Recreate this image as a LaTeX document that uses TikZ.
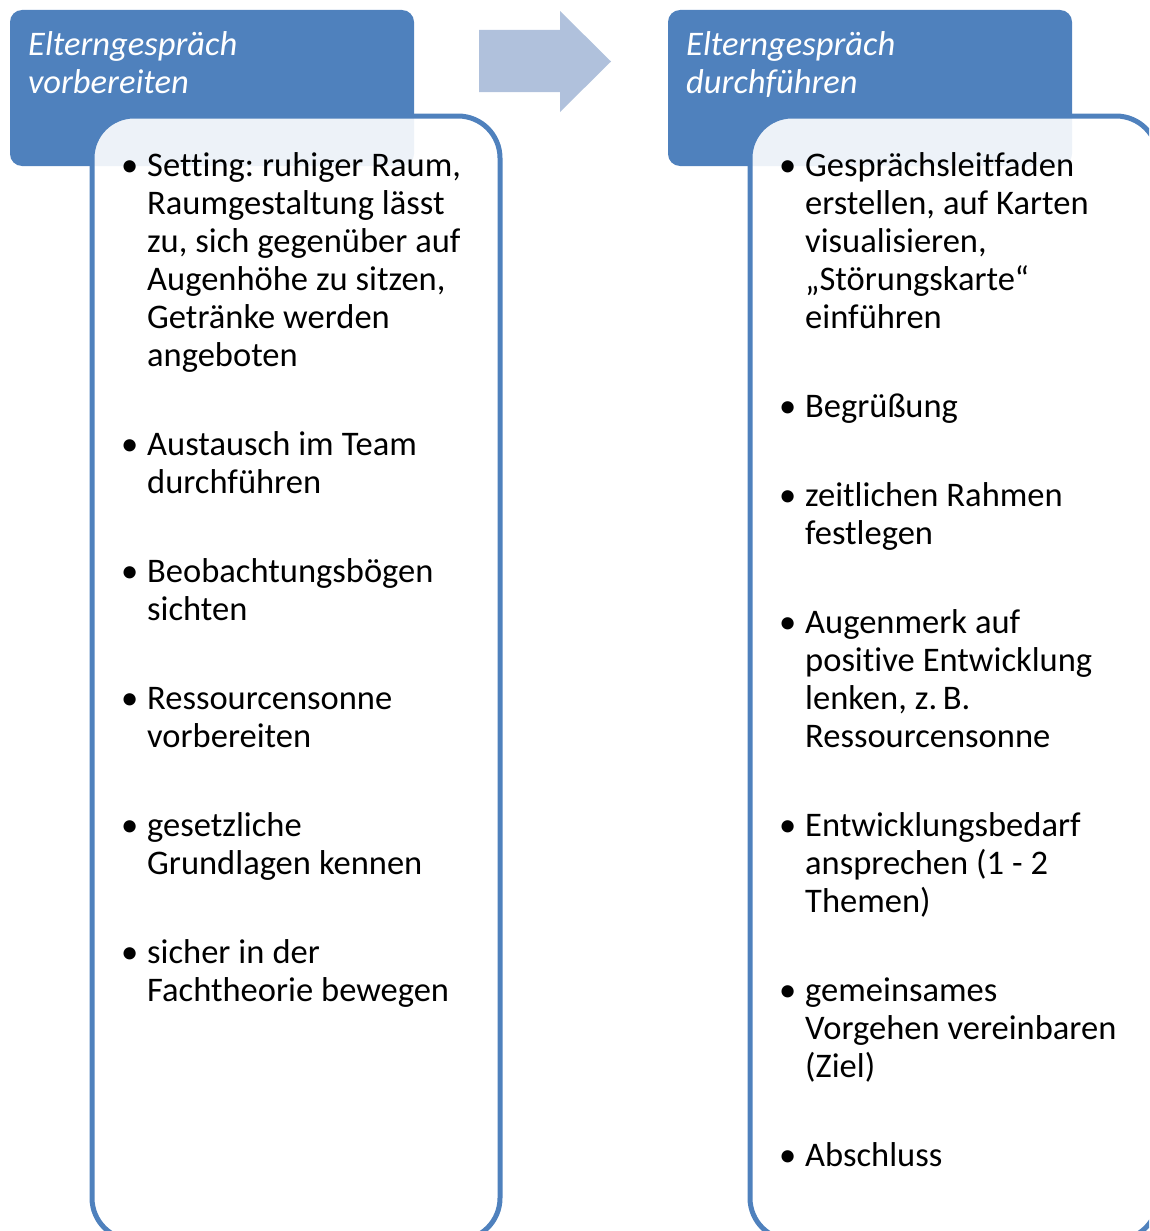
\documentclass[tikz,border=0pt]{standalone}
\usepackage{fontspec}
\setmainfont{Carlito}[Ligatures=NoCommon]
\definecolor{accent}{RGB}{79,129,189}
\definecolor{arrowfill}{RGB}{176,193,220}
% list layout: fixed 38pt lines, 51pt extra between entries, fixed word spaces
\newcommand{\listsetup}{\fontsize{34.5}{38}\selectfont\lineskiplimit=-1000pt\relax
  \parskip=51pt\relax\parindent=0pt\relax\spaceskip=8pt\relax\xspaceskip=8pt\relax}
% bullet entries of a list: bullet hangs left of the text column
\newcommand{\firstentry}{\noindent\rule{0pt}{27pt}\llap{•\hspace{9pt}}}
\newcommand{\bulletentry}{\par\noindent\rule{0pt}{27pt}\llap{•\hspace{9pt}}}
\tikzset{
  header/.style={fill=accent, rounded corners=12pt},
  card/.style={draw=accent, line width=5pt, fill=white, fill opacity=0.9, rounded corners=42pt},
  headtext/.style={anchor=north west, inner sep=0pt, text width=380pt, align=left,
    text=white, font=\fontsize{34.5}{38}\selectfont\itshape},
  listtext/.style={anchor=north west, inner sep=0pt, text width=420pt, align=left},
}
\begin{document}
\begin{tikzpicture}[x=1pt, y={(0pt,-1pt)}]
\useasboundingbox (0,0) rectangle (1149,1231);
\clip (0,0) rectangle (1149,1231);

% step headers
\path[header] (10,10) rectangle (414,166);
\path[header] (668,10) rectangle (1072,166);

% arrow between the two steps
\fill[arrowfill] (479,30) -- (560,30) -- (560,11) -- (611,61.5) -- (560,112) -- (560,92) -- (479,92) -- cycle;

% content cards
\path[card] (92,116) rectangle (500,1240);
\path[card] (750,116) rectangle (1158,1240);

% header titles
\node[headtext] (lefthead) at (28,28) {\rule{0pt}{27pt}Elterngespräch\\vorbereiten};
\node[headtext] (righthead) at (686,28) {\rule{0pt}{27pt}Elterngespräch\\durchführen};

% card contents
\node[listtext] (leftlist) at (147,149) {\listsetup
\firstentry Setting: ruhiger Raum,\\Raumgestaltung lässt\\zu, sich gegenüber auf\\Augenhöhe zu sitzen,\\Getränke werden\\angeboten
\bulletentry Austausch im Team\\durchführen
\bulletentry Beobachtungsbögen\\sichten
\bulletentry Ressourcensonne\\vorbereiten
\bulletentry gesetzliche\\Grundlagen kennen
\bulletentry sicher in der\\Fachtheorie bewegen\par};

\node[listtext] (rightlist) at (805,149) {\listsetup
\firstentry Gesprächsleitfaden\\erstellen, auf Karten\\visualisieren,\\„Störungskarte“\\einführen
\bulletentry Begrüßung
\bulletentry zeitlichen Rahmen\\festlegen
\bulletentry Augenmerk auf\\positive Entwicklung\\lenken, z.\,B.\\Ressourcensonne
\bulletentry Entwicklungsbedarf\\ansprechen (1 - 2\\Themen)
\bulletentry gemeinsames\\Vorgehen vereinbaren\\(Ziel)
\bulletentry Abschluss\par};
\end{tikzpicture}
\end{document}
